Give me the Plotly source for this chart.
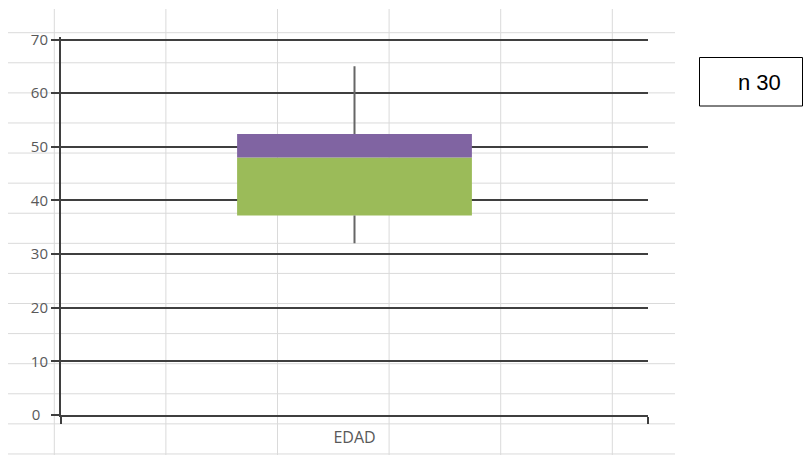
import plotly.graph_objects as go

# ---- data ----
categories = ["EDAD"]
q1 = [37.2]
median = [48.0]
q3 = [52.4]
minimum = [32.0]
maximum = [65.0]
y_ticks = [0, 10, 20, 30, 40, 50, 60, 70]
y_tick_labels = ["0\u00a0\u00a0", "10", "20", "30", "40", "50", "60", "70"]
n_label = "n 30"

OFF = 8                          # page body margin
W, H = 812 - OFF, 463 - 2 * OFF  # keep the page free of scrollbars
GREEN = "#9BBB59"
PURPLE = "#8064A2"
DARK = "#3f3f3f"
GRAY_TXT = "#595959"


def px(x):   # window x pixel -> paper fraction
    return (x - OFF) / W


def py(y):   # window y pixel -> paper fraction
    return 1 - (y - OFF) / H


fig = go.Figure()

# lower box part (Q1 -> median)
fig.add_trace(go.Bar(
    x=categories, y=[m - a for m, a in zip(median, q1)], base=q1,
    width=0.4, marker=dict(color=GREEN, line=dict(width=0)), hoverinfo="skip"))
# upper box part (median -> Q3)
fig.add_trace(go.Bar(
    x=categories, y=[b - m for b, m in zip(q3, median)], base=median,
    width=0.4, marker=dict(color=PURPLE, line=dict(width=0)), hoverinfo="skip"))
# whiskers
wx, wy = [], []
for c, lo, a, b, hi in zip(categories, minimum, q1, q3, maximum):
    wx += [c, c, None, c, c]
    wy += [b, hi, None, a, lo]
fig.add_trace(go.Scatter(x=wx, y=wy, mode="lines",
                         line=dict(color="#666666", width=2), hoverinfo="skip"))

# spreadsheet-like background grid (decoration)
shapes = []
row0, row_step, n_rows = 32.7, 30.09, 15
col0, col_step, n_cols = 54.3, 111.6, 6
for k in range(n_rows):
    yp = row0 + row_step * k
    shapes.append(dict(type="line", xref="paper", yref="paper", layer="below",
                       x0=px(7), x1=px(675), y0=py(yp), y1=py(yp),
                       line=dict(color="#dadada", width=1)))
for k in range(n_cols):
    xp = col0 + col_step * k
    shapes.append(dict(type="line", xref="paper", yref="paper", layer="below",
                       x0=px(xp), x1=px(xp), y0=py(463), y1=py(9),
                       line=dict(color="#dadada", width=1)))
# frame of the "n" text box
shapes.append(dict(type="rect", xref="paper", yref="paper", layer="above",
                   x0=px(699.5), x1=px(802.5), y0=py(106), y1=py(57.5),
                   line=dict(color="black", width=1), fillcolor="rgba(0,0,0,0)"))

Y_TOP = 70.4
px_per_unit = (415 - 39.5) / 70.0
top_px = 415 - Y_TOP * px_per_unit

fig.update_layout(
    width=W, height=H,
    margin=dict(l=0, r=0, t=0, b=0, autoexpand=False),
    paper_bgcolor="white",
    plot_bgcolor="rgba(0,0,0,0)",
    showlegend=False,
    barmode="overlay",
    shapes=shapes,
    font=dict(family="Open Sans, sans-serif", color=GRAY_TXT, size=12),
    xaxis=dict(
        domain=[px(61), px(648)],
        type="category", range=[-0.5, 0.5], automargin=False,
        showline=True, linecolor=DARK, linewidth=2,
        ticks="outside", tickson="boundaries", ticklen=7, tickcolor=DARK, tickwidth=2,
        showgrid=False, tickfont=dict(size=16, color=GRAY_TXT),
        ticklabelstandoff=7,
    ),
    yaxis=dict(
        domain=[py(415), py(top_px)],
        range=[0, Y_TOP], tickvals=y_ticks, ticktext=y_tick_labels, automargin=False,
        showline=True, linecolor=DARK, linewidth=2,
        ticks="outside", ticklen=8, tickcolor=DARK, tickwidth=2,
        showgrid=True, gridcolor=DARK, gridwidth=2,
        zeroline=False,
        tickfont=dict(size=15, color=GRAY_TXT),
    ),
    annotations=[dict(
        text=n_label, xref="paper", yref="paper",
        x=px(759), y=py(82), xanchor="center", yanchor="middle",
        showarrow=False,
        font=dict(family="Arial, Liberation Sans, sans-serif", size=22, color="black"),
    )],
)

fig.write_html("out.html")
